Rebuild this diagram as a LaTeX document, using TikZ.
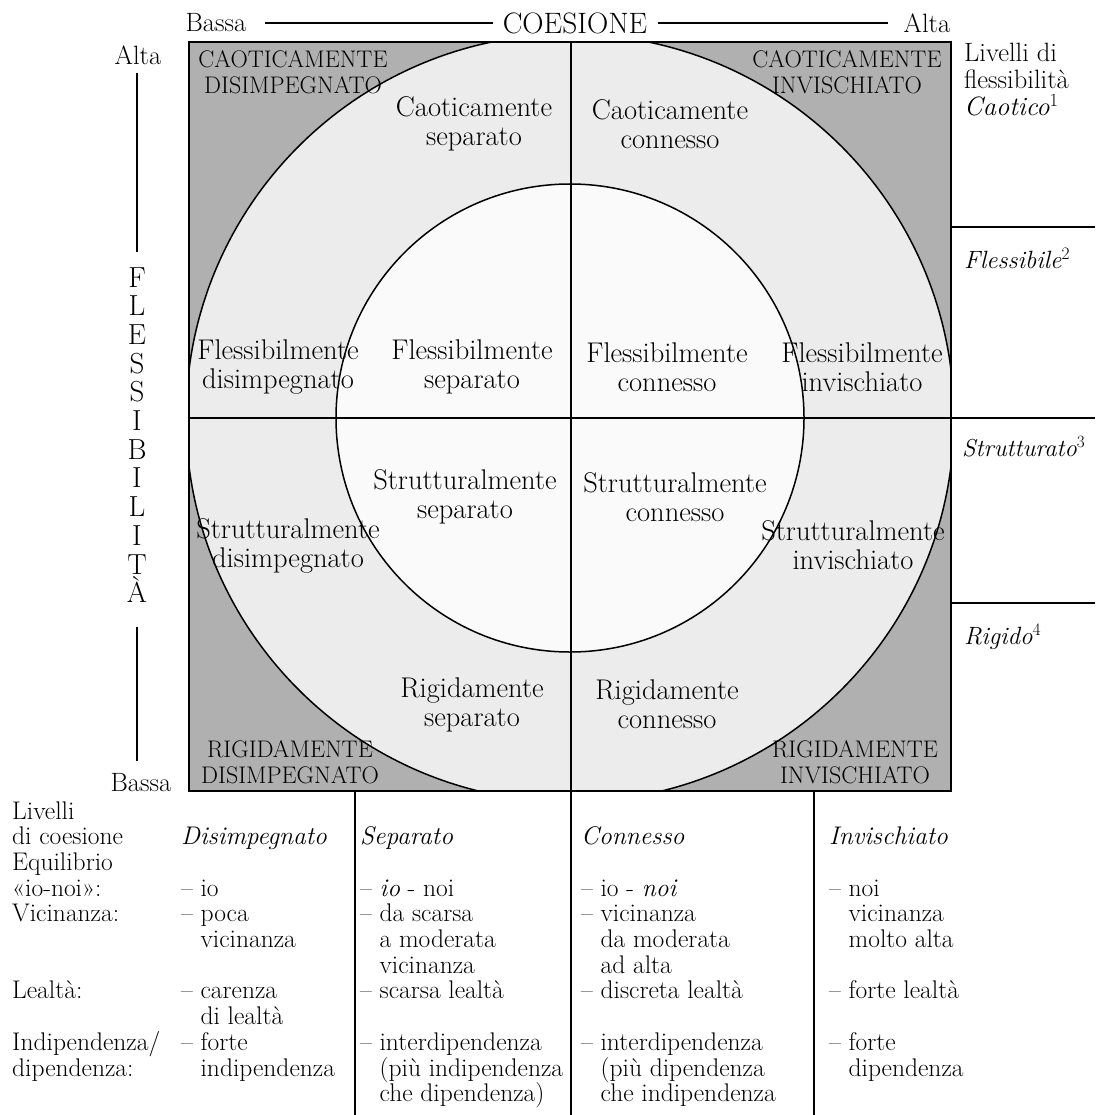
\documentclass[tikz,border=0pt]{standalone}
\usepackage{tikz}
\usetikzlibrary{positioning}
\definecolor{cornergray}{RGB}{176,176,176}
\definecolor{ringgray}{RGB}{236,236,236}
\definecolor{coregray}{RGB}{250,250,250}
\newcommand{\ind}{\hphantom{– }}

\begin{document}
\begin{tikzpicture}[x=1pt, y=-1pt,
    lbl/.style={align=center, font=\fontsize{28.5}{29.5}\selectfont},
    caps/.style={align=center, font=\fontsize{24}{26}\selectfont},
    axislbl/.style={font=\fontsize{26.5}{29}\selectfont},
    letter/.style={anchor=base, inner sep=0pt, font=\fontsize{29}{30}\selectfont},
    level/.style={anchor=west, align=left, inner sep=0pt, font=\fontsize{26.5}{27}\selectfont},
    tbl/.style={anchor=base west, inner sep=0pt, font=\fontsize{25.5}{26}\selectfont},
    rule/.style={line width=1.5pt}]
  \useasboundingbox (0,0) rectangle (1103,1115);

  % Square with the two circles
  \coordinate (c) at (570,418);
  \coordinate (nw) at (189,42);
  \coordinate (se) at (951,791);
  \begin{scope}
    \clip (nw) rectangle (se);
    \fill[cornergray] (nw) rectangle (se);
    \filldraw[fill=ringgray, rule] (c) circle (384);
    \filldraw[fill=coregray, rule] (c) circle (234);
  \end{scope}
  \draw[line width=1.8pt] (nw) rectangle (se);

  % Cross and grid lines
  \draw[rule] (571,42) -- (571,1115);
  \draw[rule] (189,418) -- (1095,418);
  \draw[rule] (951,227) -- (1095,227);
  \draw[rule] (951,603) -- (1095,603);
  \draw[rule] (355,791) -- (355,1115);
  \draw[rule] (814,791) -- (814,1115);

  % Corner labels
  \node[caps] (cao-dis) at (293,72) {CAOTICAMENTE\\DISIMPEGNATO};
  \node[caps] (cao-inv) at (847,72) {CAOTICAMENTE\\INVISCHIATO};
  \node[caps] (rig-dis) at (290,762) {RIGIDAMENTE\\DISIMPEGNATO};
  \node[caps] (rig-inv) at (855,762) {RIGIDAMENTE\\INVISCHIATO};

  % Circle labels
  \node[lbl] (cao-sep) at (474,124) {Caoticamente\\separato};
  \node[lbl] (cao-con) at (670,124) {Caoticamente\\connesso};
  \node[lbl] (fle-dis) at (278,367) {Flessibilmente\\disimpegnato};
  \node[lbl] (fle-sep) at (472,367) {Flessibilmente\\separato};
  \node[lbl] (fle-con) at (667,367) {Flessibilmente\\connesso};
  \node[lbl] (fle-inv) at (862,367) {Flessibilmente\\invischiato};
  \node[lbl] (str-sep) at (465,497) {Strutturalmente\\separato};
  \node[lbl] (str-con) at (675,497) {Strutturalmente\\connesso};
  \node[lbl] (str-dis) at (288,546) {Strutturalmente\\disimpegnato};
  \node[lbl] (str-inv) at (853,545) {Strutturalmente\\invischiato};
  \node[lbl] (rig-sep) at (472,705) {Rigidamente\\separato};
  \node[lbl] (rig-con) at (667,704) {Rigidamente\\connesso};

  % Cohesion axis
  \node[axislbl] (bassa-top) at (216,23) {Bassa};
  \node[axislbl, font=\fontsize{29.5}{30}\selectfont] (coesione) at (575,23) {COESIONE};
  \node[axislbl] (alta-top) at (927,23) {Alta};
  \draw[rule, shorten <=15pt, shorten >=6pt] (bassa-top) -- (coesione);
  \draw[rule, shorten <=7pt, shorten >=12pt] (coesione) -- (alta-top);

  % Flexibility axis
  \node[axislbl] (alta-left) at (138,55) {Alta};
  \node[axislbl] (bassa-left) at (141,783) {Bassa};
  \foreach \ch [count=\i] in {F,L,E,S,S,I,B,I,L,I,T,À}
    \node[letter] (flex-\i) at (137,{287+28.7*(\i-1)}) {\ch};
  \draw[rule, shorten <=5pt, shorten >=15pt] (flex-1.north |- alta-left.south) -- (flex-1.north);
  \draw[rule, shorten <=24pt, shorten >=9pt] (flex-12.south) -- (flex-12.south |- bassa-left.north);

  % Flexibility levels
  \node[level] (lv-cao) at (964,80) {Livelli di\\flessibilità\\\textit{Caotico}\textsuperscript{1}};
  \node[level, font=\fontsize{25}{27}\selectfont] (lv-fle) at (964,258) {\textit{Flessibile}\textsuperscript{2}};
  \node[level, font=\fontsize{24.5}{27}\selectfont] (lv-str) at (962,447) {\textit{Strutturato}\textsuperscript{3}};
  \node[level, font=\fontsize{25}{27}\selectfont] (lv-rig) at (964,637) {\textit{Rigido}\textsuperscript{4}};

  % Cohesion levels table
  \foreach \r/\t in {1/Livelli, 2/di coesione, 3/Equilibrio, 4/{«io-noi»:}, 5/Vicinanza:,
      8/Lealtà:, 10/{Indipendenza/}, 11/dipendenza:}
    \node[tbl] (lab-\r) at (12,{793.3+25.7*\r}) {\t};
  \foreach \r/\t in {2/{\textit{Disimpegnato}}, 4/{– io}, 5/{– poca}, 6/{\ind vicinanza},
      8/{– carenza}, 9/{\ind di lealtà}, 10/{– forte}, 11/{\ind indipendenza}}
    \node[tbl] (dis-\r) at (181,{793.3+25.7*\r}) {\t};
  \foreach \r/\t in {2/{\textit{Separato}}, 4/{– \textit{io} - noi}, 5/{– da scarsa},
      6/{\ind a moderata}, 7/{\ind vicinanza}, 8/{– scarsa lealtà}, 10/{– interdipendenza},
      11/{\ind (più indipendenza}, 12/{\ind che dipendenza)}}
    \node[tbl] (sep-\r) at (360,{793.3+25.7*\r}) {\t};
  \foreach \r/\t in {2/{\textit{Connesso}}, 4/{– io - \textit{noi}}, 5/{– vicinanza},
      6/{\ind da moderata}, 7/{\ind ad alta}, 8/{– discreta lealtà}, 10/{– interdipendenza},
      11/{\ind (più dipendenza}, 12/{\ind che indipendenza}}
    \node[tbl] (con-\r) at (581,{793.3+25.7*\r}) {\t};
  \foreach \r/\t in {2/{\textit{Invischiato}}, 4/{– noi}, 5/{\ind vicinanza}, 6/{\ind molto alta},
      8/{– forte lealtà}, 10/{– forte}, 11/{\ind dipendenza}}
    \node[tbl] (inv-\r) at (829,{793.3+25.7*\r}) {\t};
\end{tikzpicture}
\end{document}
